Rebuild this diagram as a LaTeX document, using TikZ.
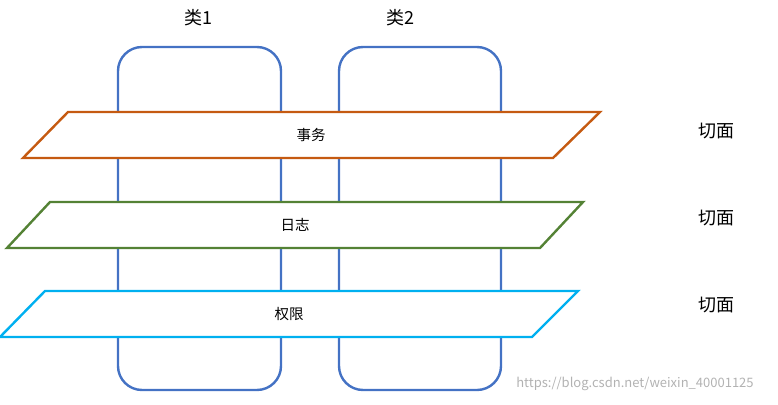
\documentclass[tikz,border=0pt]{standalone}
\usepackage{fontspec}
\setmainfont{Noto Sans CJK SC}
\definecolor{cls}{RGB}{68,114,196}
\definecolor{orn}{RGB}{197,90,17}
\definecolor{grn}{RGB}{84,130,53}
\definecolor{cyn}{RGB}{0,176,240}
\tikzset{classbox/.style={draw=cls,line width=2.4pt,rounded corners=24pt},
plane/.style={line width=2.4pt,fill=white},
lbl/.style={font=\fontsize{14.5}{16}\selectfont},
big/.style={font=\fontsize{18}{20}\selectfont}}
\begin{document}
\begin{tikzpicture}[x=1pt,y=-1pt]
\useasboundingbox (0,0) rectangle (778,404);
\draw[classbox] (118,47) rectangle (281,390);
\draw[classbox] (339,47) rectangle (501,390);
\node[big] (c1) at (198,18) {类1};
\node[big] (c2) at (400,18) {类2};
\draw[plane,draw=orn] (68,112)--(600,112)--(553,158)--(23,158)--cycle;
\draw[plane,draw=grn] (50,202)--(583,202)--(540,248)--(7,248)--cycle;
\draw[plane,draw=cyn] (45,291)--(578,291)--(532,337)--(0,337)--cycle;
\node[lbl] (p1) at (311,135) {事务};
\node[lbl] (p2) at (295,225) {日志};
\node[lbl] (p3) at (289,314) {权限};
\node[big] (s1) at (716,131) {切面};
\node[big] (s2) at (716,218) {切面};
\node[big] (s3) at (716,305) {切面};
\node[font=\fontsize{13}{15}\selectfont,text=gray!60] (w) at (635,384) {https://blog.csdn.net/weixin\_40001125};
\end{tikzpicture}
\end{document}
